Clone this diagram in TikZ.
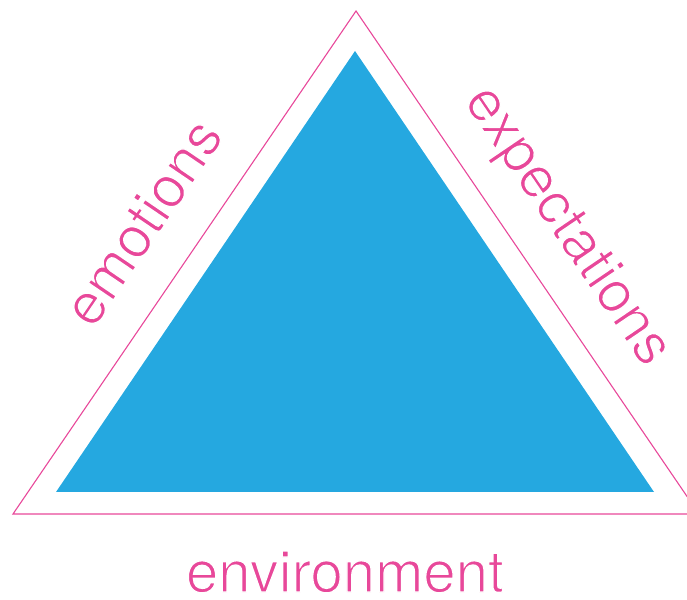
\documentclass[tikz,border=0pt]{standalone}
\usepackage{fontspec}
\setmainfont{TeX Gyre Heros}
\definecolor{skyblue}{HTML}{25A8E0}
\definecolor{rosepink}{HTML}{E8489A}
% thin the glyphs: fill, then stroke the outline in white
\newcommand{\thinword}[1]{\special{pdf:literal direct 2 Tr 1 1 1 RG 1.3 w}#1\special{pdf:literal direct 0 Tr}}
\begin{document}
\begin{tikzpicture}[x=1pt,y=1pt,
  label text/.style={text=rosepink,font=\fontsize{58}{60}\selectfont,inner sep=0pt}]
  \useasboundingbox (0,0) rectangle (687,599);
  \clip (0,0) rectangle (687,599);
  % outer outline triangle
  \coordinate (oTop) at (356,588);
  \coordinate (oLeft) at (13,85);
  \coordinate (oRight) at (699,85);
  \draw[rosepink,line width=1.1pt,line join=miter] (oLeft) -- (oTop) -- (oRight) -- cycle;
  % inner filled triangle
  \coordinate (iTop) at (355,548);
  \coordinate (iLeft) at (56,107);
  \coordinate (iRight) at (654,107);
  \fill[skyblue] (iLeft) -- (iTop) -- (iRight) -- cycle;
  % side labels
  \node[label text,anchor=base,rotate=55.8] (emo) at (159,366) {\thinword{emotions}};
  \node[label text,anchor=base,rotate=-55.8] (exp) at (554,364) {\thinword{expectations}};
  \node[label text,anchor=base] (env) at (345,7) {\thinword{environment}};
\end{tikzpicture}
\end{document}
